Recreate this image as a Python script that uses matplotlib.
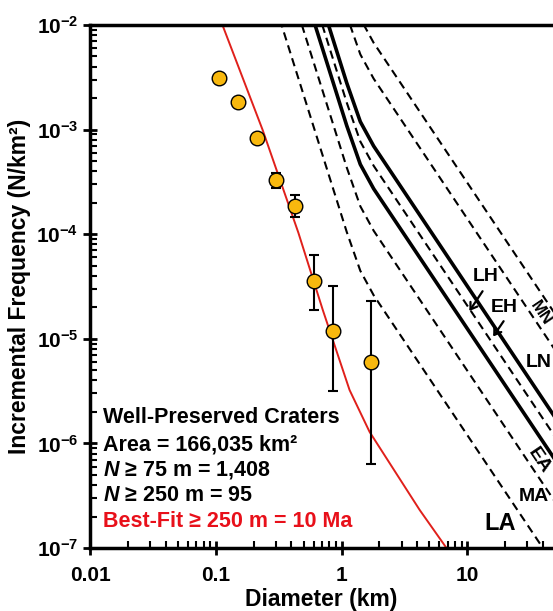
import numpy as np
import matplotlib.pyplot as plt

plt.rcParams['font.family'] = 'Liberation Sans'
plt.rcParams['font.weight'] = 'bold'
plt.rcParams['axes.labelweight'] = 'bold'
plt.rcParams['mathtext.fontset'] = 'custom'
plt.rcParams['mathtext.rm'] = 'Liberation Sans:bold'
plt.rcParams['mathtext.it'] = 'Liberation Sans:bold:italic'
plt.rcParams['mathtext.bf'] = 'Liberation Sans:bold'

# crater counts (sqrt-2 bins)
diam = [0.106, 0.15, 0.212, 0.30, 0.425, 0.60, 0.85, 1.70]
freq = [3.1e-3, 1.85e-3, 8.4e-4, 3.3e-4, 1.86e-4, 3.6e-5, 1.19e-5, 6.0e-6]
freq_lo = [3.1e-3, 1.85e-3, 8.4e-4, 2.77e-4, 1.46e-4, 1.88e-5, 3.17e-6, 6.3e-7]
freq_hi = [3.1e-3, 1.85e-3, 8.4e-4, 3.87e-4, 2.37e-4, 6.3e-5, 3.2e-5, 2.31e-5]

# best-fit 10 Ma isochron
fit_d = [0.113, 0.236, 0.454, 0.710, 1.158, 1.67, 4.18, 6.83]
fit_n = [1.0e-2, 9.9e-4, 1.03e-4, 1.88e-5, 3.24e-6, 1.29e-6, 2.31e-7, 1.0e-7]

# epoch isochrons
iso_d = [0.3, 1.1, 1.41, 1.8, 60]
iso_la = [1.50e-2, 1.05e-4, 4.47e-5, 2.61e-5, 4.8e-8]
iso_ma = [6.2e-2, 4.34e-4, 1.85e-4, 1.08e-4, 1.98e-7]
iso_ea = [0.156, 1.09e-3, 4.65e-4, 2.72e-4, 5.0e-7]
iso_lh = [0.258, 1.81e-3, 7.7e-4, 4.51e-4, 8.3e-7]
iso_eh = [0.398, 2.79e-3, 1.19e-3, 6.96e-4, 1.27e-6]
iso_ln = [1.76, 1.23e-2, 5.24e-3, 3.07e-3, 5.6e-6]
iso_mn = [3.88, 2.71e-2, 1.155e-2, 6.76e-3, 1.24e-5]

fig = plt.figure(figsize=(5.53, 6.11), dpi=100)
ax = fig.add_axes([90 / 553, 63 / 611, 463 / 553, 523 / 611])

dash = dict(color='k', lw=1.5, dashes=(4, 2.5))
solid = dict(color='k', lw=2.6)
ax.plot(iso_d, iso_la, **dash)
ax.plot(iso_d, iso_ma, **dash)
ax.plot(iso_d, iso_ea, **solid)
ax.plot(iso_d, iso_lh, **dash)
ax.plot(iso_d, iso_eh, **solid)
ax.plot(iso_d, iso_ln, **dash)
ax.plot(iso_d, iso_mn, **dash)

ax.plot(fit_d, fit_n, color='#e0201b', lw=1.4)

freq_a = np.array(freq)
yerr = [freq_a - np.array(freq_lo), np.array(freq_hi) - freq_a]
ax.errorbar(diam, freq, yerr=yerr, fmt='none', ecolor='k', elinewidth=1.5,
            capsize=3.5, capthick=1.5)
ax.plot(diam, freq, 'o', ms=10.5, mfc='#f8b80e', mec='k', mew=1.0)

# epoch labels
arrow = dict(arrowstyle='->,head_length=0.45,head_width=0.3', lw=1.6, color='k')
ax.text(13.9, 3.9e-5, 'LH', fontsize=14, ha='center', va='center')
ax.annotate('', xy=(10.1, 1.75e-5), xytext=(13.6, 3.0e-5), arrowprops=arrow)
ax.text(19.6, 1.97e-5, 'EH', fontsize=14, ha='center', va='center')
ax.annotate('', xy=(15.6, 1.0e-5), xytext=(20.0, 1.55e-5), arrowprops=arrow)
ax.text(36.8, 6.0e-6, 'LN', fontsize=14, ha='center', va='center')
ax.text(38.5, 1.77e-5, 'MN', fontsize=12, ha='center', va='center', rotation=-56)
ax.text(37.5, 6.9e-7, 'EA', fontsize=14, ha='center', va='center', rotation=-56)
ax.text(33.6, 3.08e-7, 'MA', fontsize=14, ha='center', va='center')
ax.text(18.3, 1.73e-7, 'LA', fontsize=17, ha='center', va='center')

# summary text
ax.text(0.028, 0.249, 'Well-Preserved Craters', transform=ax.transAxes, fontsize=15.5, va='center')
ax.text(0.028, 0.197, 'Area = 166,035 km²', transform=ax.transAxes, fontsize=15.5, va='center')
ax.text(0.028, 0.149, r'$N$ ≥ 75 m = 1,408', transform=ax.transAxes, fontsize=15.5, va='center')
ax.text(0.028, 0.101, r'$N$ ≥ 250 m = 95', transform=ax.transAxes, fontsize=15.5, va='center')
ax.text(0.028, 0.050, 'Best-Fit ≥ 250 m = 10 Ma', transform=ax.transAxes, fontsize=15.5,
        va='center', color='#e8101a')

ax.set_xscale('log')
ax.set_yscale('log')
ax.set_xlim(0.01, 48)
ax.set_ylim(1e-7, 1e-2)
ax.set_xticks([0.01, 0.1, 1, 10], labels=['0.01', '0.1', '1', '10'])
ax.set_yticks([1e-7, 1e-6, 1e-5, 1e-4, 1e-3, 1e-2],
              labels=[r'$10^{-%d}$' % k for k in [7, 6, 5, 4, 3, 2]])
ax.tick_params(which='major', direction='inout', length=10, width=2, labelsize=15)
ax.tick_params(which='minor', direction='in', length=5, width=1.5)
ax.tick_params(axis='x', pad=8)

for s in ['left', 'bottom', 'top']:
    ax.spines[s].set_linewidth(2.5)
ax.spines['right'].set_visible(False)

ax.set_xlabel('Diameter (km)', fontsize=16.5, labelpad=2)
ax.set_ylabel('Incremental Frequency (N/km²)', fontsize=16.5, labelpad=4)

plt.savefig('out.png', dpi=100)
